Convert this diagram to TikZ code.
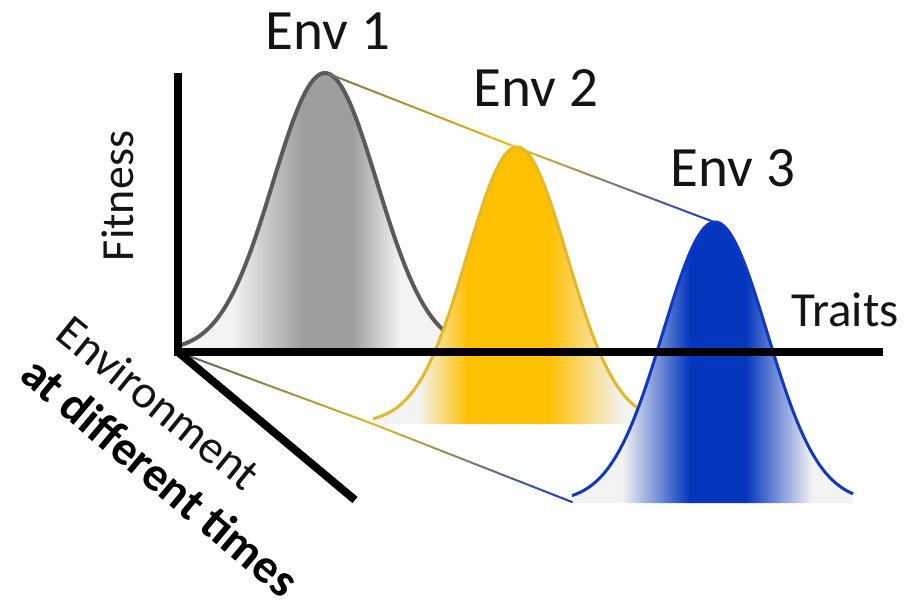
\documentclass[tikz,border=0pt]{standalone}
\usepackage{fontspec}
\setmainfont{Carlito}
\usetikzlibrary{calc}
\definecolor{gline}{RGB}{90,90,90}
\definecolor{gdark}{RGB}{158,158,158}
\definecolor{glight}{RGB}{243,243,243}
\definecolor{yline}{RGB}{228,184,40}
\definecolor{ygold}{RGB}{255,192,0}
\definecolor{bline}{RGB}{14,56,196}
\definecolor{bdark}{RGB}{5,55,190}
\definecolor{olive}{RGB}{130,118,80}
\definecolor{cgray}{RGB}{95,95,95}
\definecolor{txt}{RGB}{20,20,20}
\tikzset{
  envlabel/.style={font=\fontsize{57}{60}\selectfont, text=txt, anchor=base, inner sep=0},
  axis/.style={line width=8pt, black},
  link/.style={line width=2pt, line cap=round},
}
\begin{document}
\begin{tikzpicture}[x=1pt,y=-1pt]
\useasboundingbox (0,0) rectangle (908,601);

% ---- Env 1 (gray)
\begin{scope}
\clip plot[domain=-147:122,samples=90] ({325+\x},{351-278*exp(-((\x/52)^2)/2)}) -- (447,351) -- (178,351) -- cycle;
\fill[glight] (170,60) rectangle (460,360);
\shade[left color=glight,right color=gdark] (232,60) rectangle (302,360);
\fill[gdark] (301,60) rectangle (353,360);
\shade[left color=gdark,right color=glight] (352,60) rectangle (400,360);
\end{scope}
\draw[gline,line width=4pt] plot[domain=-147:122,samples=90] ({325+\x},{351-278*exp(-((\x/52)^2)/2)});

% ---- Env 2 (yellow)
\begin{scope}
\clip plot[domain=-144:123,samples=90] ({517+\x},{423-276*exp(-((\x/50)^2)/2)}) -- (640,424) -- (373,424) -- cycle;
\fill[glight] (360,130) rectangle (660,430);
\shade[left color=glight,right color=ygold] (418,130) rectangle (468,430);
\fill[ygold] (467,130) rectangle (549,430);
\shade[left color=ygold,right color=glight] (548,130) rectangle (622,430);
\end{scope}
\draw[yline,line width=3pt] plot[domain=-144:123,samples=90] ({517+\x},{423-276*exp(-((\x/50)^2)/2)});

% ---- Env 3 (blue)
\begin{scope}
\clip plot[domain=-143:138,samples=90] ({715+\x},{502-280*exp(-((\x/52)^2)/2)}) -- (853,503) -- (572,503) -- cycle;
\fill[glight] (560,200) rectangle (870,510);
\shade[left color=glight,right color=bdark] (622,200) rectangle (690,510);
\fill[bdark] (689,200) rectangle (747,510);
\shade[left color=bdark,right color=glight] (746,200) rectangle (812,510);
\end{scope}
\draw[bline,line width=3pt] plot[domain=-143:138,samples=90] ({715+\x},{502-280*exp(-((\x/52)^2)/2)});

% ---- connector coordinates
\coordinate (g1) at (329,74);
\coordinate (y1) at (518,148);
\coordinate (b1) at (714,222);
\coordinate (o) at (178,352);
\coordinate (y0) at (373,424);
\coordinate (b0) at (572,502);

\foreach \i [evaluate=\i as \p using int(5*\i), evaluate=\i as \s using \i/20, evaluate=\i as \t using (\i+1)/20] in {0,...,19} {
  \draw[link, color=ygold!\p!olive] ($(g1)!\s!(y1)$) -- ($(g1)!\t!(y1)$);
  \draw[link, color=bline!\p!yline] ($(y1)!\s!(b1)$) -- ($(y1)!\t!(b1)$);
  \draw[link, color=yline!\p!cgray] ($(o)!\s!(y0)$) -- ($(o)!\t!(y0)$);
  \draw[link, color=bline!\p!yline] ($(y0)!\s!(b0)$) -- ($(y0)!\t!(b0)$);
}

% ---- axes
\coordinate (ytop) at (178,73);
\coordinate (xend) at (883,352);
\coordinate (zend) at (355,500);
\draw[axis, line join=miter] (ytop) -- (o) -- (xend);
\draw[axis] (o) -- (zend);

% ---- labels
\node[envlabel] (e1) at (328,50) {Env 1};
\node[envlabel] (e2) at (536,107) {Env 2};
\node[envlabel] (e3) at (733,187) {Env 3};
\node[font=\fontsize{46}{48}\selectfont, text=txt, rotate=90, anchor=base, inner sep=0] (fit) at (133,196) {Fitness};
\node[font=\fontsize{49}{52}\selectfont, text=txt, anchor=base, inner sep=0] (tr) at (845,327) {Traits};
\node[font=\fontsize{47}{50}\selectfont, text=txt, rotate=-39, anchor=base, inner sep=0] (env) at (149,415) {Environment};
\node[font=\bfseries\fontsize{48}{50}\selectfont, text=black, rotate=-40, anchor=base, inner sep=0] (adt) at (150,489) {at different times};
\end{tikzpicture}
\end{document}
